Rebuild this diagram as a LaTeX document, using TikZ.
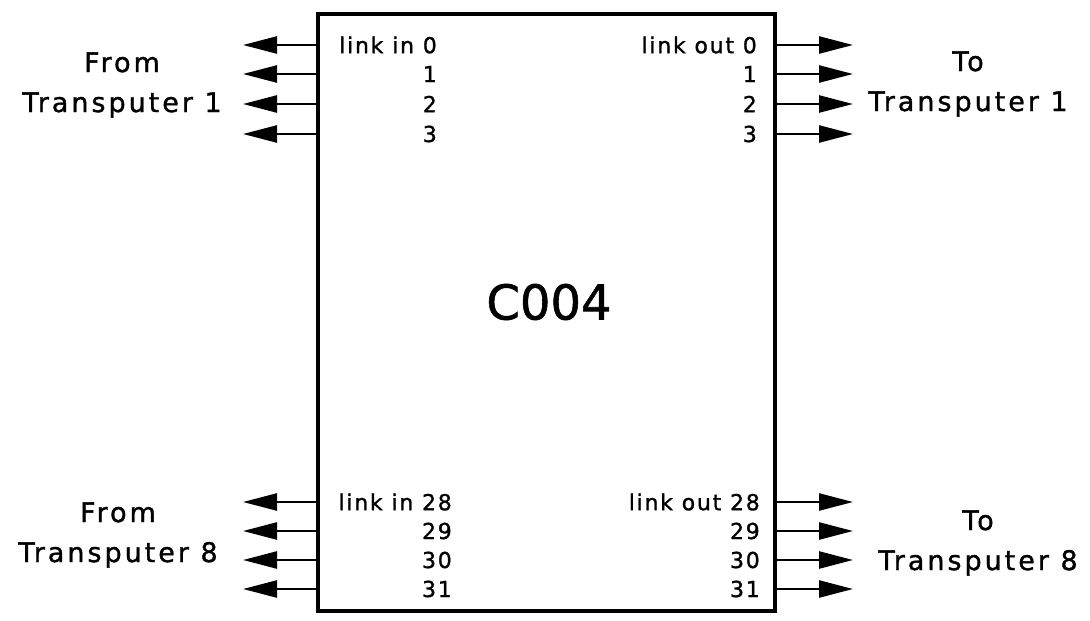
\documentclass[tikz,border=0pt]{standalone}
\usepackage{fontspec}
\setmainfont[LetterSpace=11,FakeBold=1.2]{DejaVu Sans}
\newfontfamily\pinfont[LetterSpace=8,FakeBold=1.2]{DejaVu Sans}
\newfontfamily\chipfont[FakeBold=1.2]{DejaVu Sans}
\usetikzlibrary{arrows.meta}

\begin{document}
\begin{tikzpicture}[
  x=1pt,y=-1pt,
  chip/.style={draw,line width=4pt,minimum width=457pt,minimum height=597pt,inner sep=0pt},
  pin/.style={font=\pinfont\fontsize{22}{22}\selectfont,anchor=east,inner sep=0pt},
  side/.style={font=\fontsize{27}{40}\selectfont,align=center,inner sep=0pt},
  link/.style={-{Triangle[length=34pt,width=17pt]},line width=2.5pt}
]
  \useasboundingbox (0,0) rectangle (1090,621);

  \node[chip] (c004) at (546.5,312.5) {};
  \node[font=\chipfont\fontsize{48}{48}\selectfont] (name) at (549,302) {C004};

  \node[pin] (in0) at (437,45) {link in 0};
  \foreach \n/\y in {1/74,2/104,3/134}
    \node[pin] (in\n) at (437,\y) {\n};
  \node[pin] (out0) at (757,45) {link out 0};
  \foreach \n/\y in {1/74,2/104,3/134}
    \node[pin] (out\n) at (757,\y) {\n};

  \node[pin] (in28) at (452,502) {link in 28};
  \foreach \n/\y in {29/531,30/560,31/589}
    \node[pin] (in\n) at (452,\y) {\n};
  \node[pin] (out28) at (760,502) {link out 28};
  \foreach \n/\y in {29/531,30/560,31/589}
    \node[pin] (out\n) at (760,\y) {\n};

  \foreach \y [count=\i] in {45,74,104,134,502,531,560,589} {
    \coordinate (l\i) at (243,\y);
    \coordinate (r\i) at (853,\y);
    \draw[link] (c004.west |- l\i) -- (l\i);
    \draw[link] (c004.east |- r\i) -- (r\i);
  }

  \node[side] (from1) at (122,85) {From\\Transputer 1};
  \node[side] (to1) at (968,84) {To\\Transputer 1};
  \node[side] (from8) at (118,535) {From\\Transputer 8};
  \node[side] (to8) at (978,543) {To\\Transputer 8};
\end{tikzpicture}
\end{document}
